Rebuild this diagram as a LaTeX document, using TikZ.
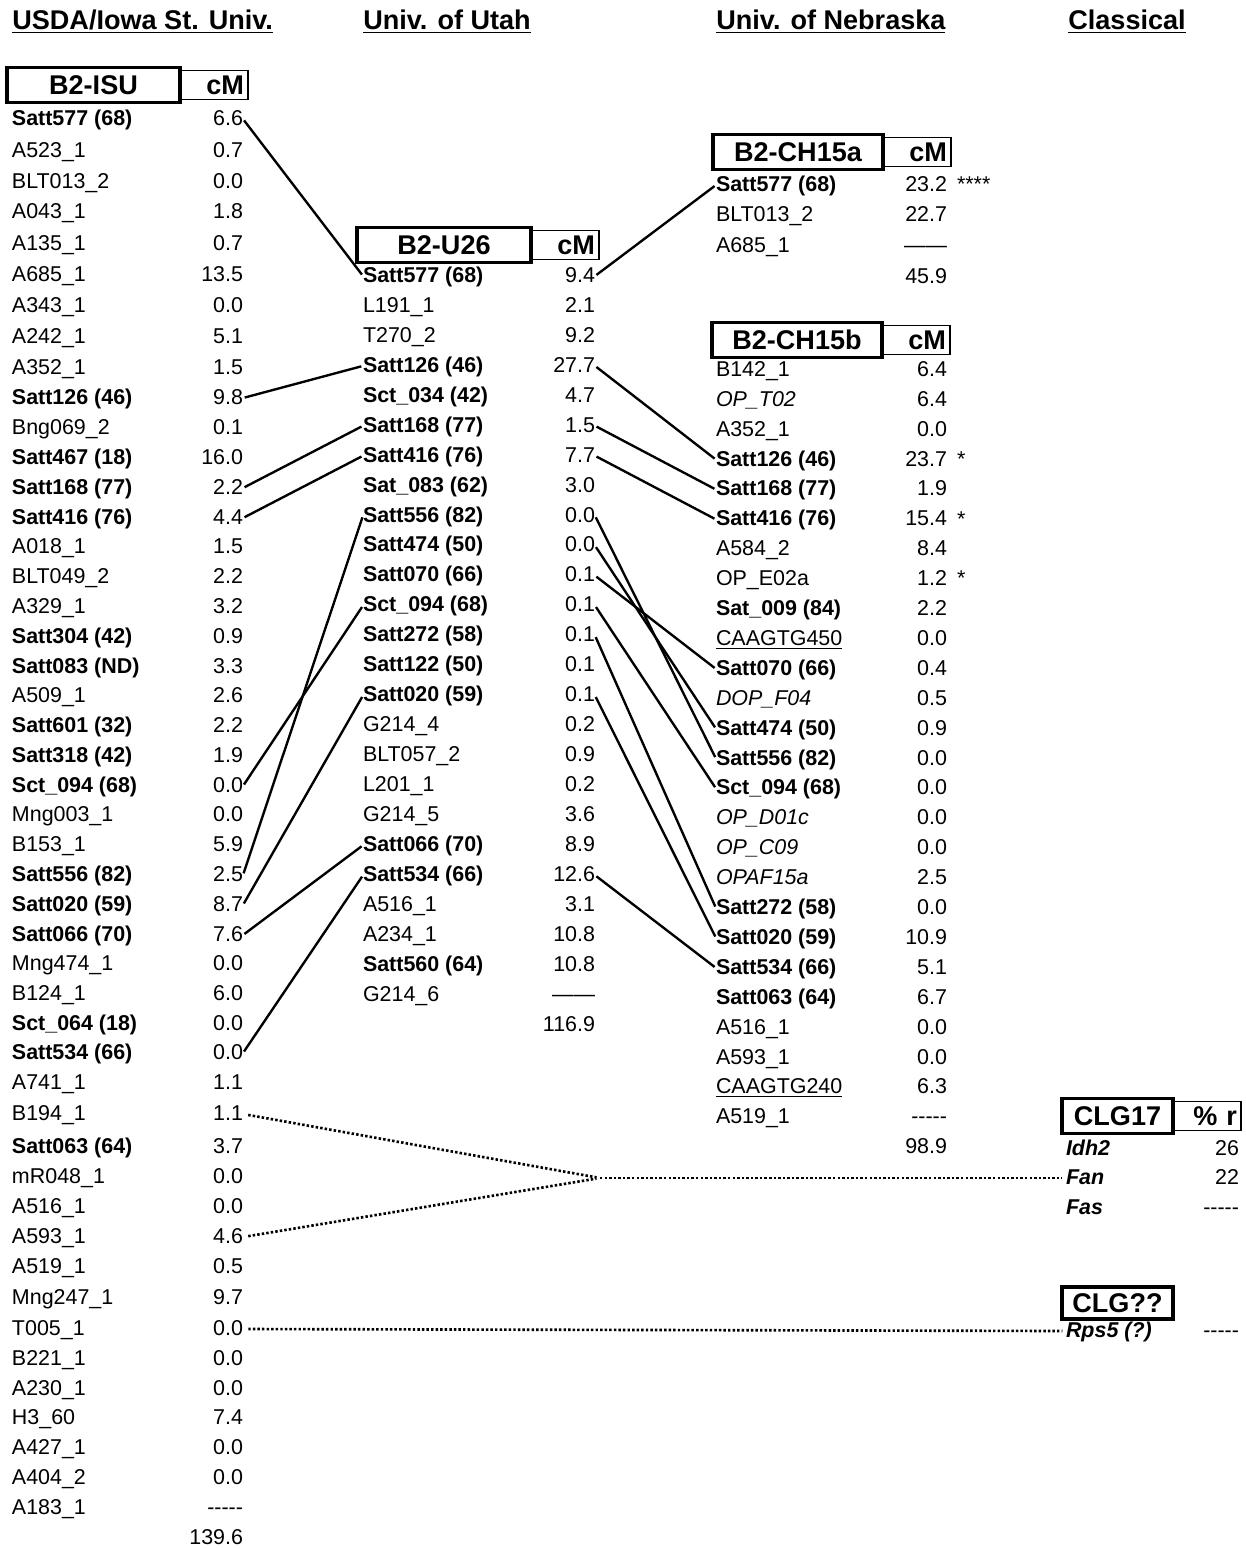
\documentclass[tikz,border=0pt]{standalone}
\usepackage{fontspec}
\setmainfont{Liberation Sans}
\usetikzlibrary{positioning}
\newcommand\rowfont{\fontsize{12.2}{14}\selectfont}
\newcommand\hdrfont{\fontsize{15.4}{18}\selectfont\bfseries}
\newcommand\nodash{-{}-{}-{}-{}-}
\newcommand\longdash{——}

\begin{document}
\begin{tikzpicture}[
  x=0.2mm, y=-0.2mm,
  mkname/.style ={anchor=west,inner sep=0pt,outer sep=0pt,text height=.72em,text depth=0pt,font=\rowfont},
  mkval/.style  ={mkname,anchor=east},
  starmark/.style={mkname},
  ttlnode/.style={anchor=west,inner sep=0pt,text height=.72em,text depth=0pt,font=\hdrfont},
  grpbox/.style ={draw,line width=2pt,inner sep=0pt,outer sep=0pt,minimum width=34.6mm,
                  minimum height=7mm,font=\hdrfont},
  cmbox/.style  ={draw,line width=1pt,anchor=west,inner xsep=0.8mm,inner ysep=0pt,outer sep=0pt,
                  minimum height=5.8mm,text width=12mm,align=right,font=\hdrfont},
  lnk/.style    ={line width=1.35pt,shorten <=1pt,shorten >=1pt},
  dotlnk/.style ={line width=1.5pt,dash pattern=on 1.4pt off 1.2pt,shorten <=3pt,shorten >=2pt}
]
\useasboundingbox (0,0) rectangle (1245,1549);
%% Titles
\node[ttlnode] (ttl-isu)  at (12,23)   {\underline{USDA/Iowa St. Univ.}};
\node[ttlnode] (ttl-utah) at (363,23)  {\underline{Univ. of Utah}};
\node[ttlnode] (ttl-neb)  at (716,23)  {\underline{Univ. of Nebraska}};
\node[ttlnode] (ttl-cls)  at (1068,23) {\underline{Classical}};
%% Group boxes
\node[grpbox] (isu-box) at (93.5,85) {B2-ISU};
\node[cmbox]  (isu-cm)  at (isu-box.east) {cM};
\node[grpbox,minimum width=34.8mm] (u26-box) at (444,245) {B2-U26};
\node[cmbox]  (u26-cm)  at (u26-box.east) {cM};
\node[grpbox,minimum width=34mm] (cha-box) at (798,152) {B2-CH15a};
\node[cmbox]  (cha-cm)  at (cha-box.east) {cM};
\node[grpbox,minimum width=34mm] (chb-box) at (797,340) {B2-CH15b};
\node[cmbox]  (chb-cm)  at (chb-box.east) {cM};
\node[grpbox,minimum width=22.2mm] (clg-box) at (1117.5,1116) {CLG17};
\node[cmbox]  (clg-cm)  at (clg-box.east) {\% r};
\node[grpbox,minimum width=22.2mm,minimum height=6.4mm] (unk-box) at (1117.5,1303) {CLG??};
%% Column 1: B2-ISU
\foreach \n/\y/\nm/\v in {
  1/119/\textbf{Satt577 (68)}/6.6, 2/151/A523\_1/0.7, 3/182/BLT013\_2/0.0,
  4/212/A043\_1/1.8, 5/244/A135\_1/0.7, 6/275/A685\_1/13.5, 7/306/A343\_1/0.0,
  8/337/A242\_1/5.1, 9/368/A352\_1/1.5, 10/398/\textbf{Satt126 (46)}/9.8,
  11/428/Bng069\_2/0.1, 12/458/\textbf{Satt467 (18)}/16.0, 13/488/\textbf{Satt168 (77)}/2.2,
  14/518/\textbf{Satt416 (76)}/4.4, 15/547/A018\_1/1.5, 16/577/BLT049\_2/2.2,
  17/607/A329\_1/3.2, 18/637/\textbf{Satt304 (42)}/0.9, 19/667/\textbf{Satt083 (ND)}/3.3,
  20/696/A509\_1/2.6, 21/726/\textbf{Satt601 (32)}/2.2, 22/756/\textbf{Satt318 (42)}/1.9,
  23/786/\textbf{Sct\_094 (68)}/0.0, 24/815/Mng003\_1/0.0, 25/845/B153\_1/5.9,
  26/875/\textbf{Satt556 (82)}/2.5, 27/905/\textbf{Satt020 (59)}/8.7,
  28/935/\textbf{Satt066 (70)}/7.6, 29/964/Mng474\_1/0.0, 30/994/B124\_1/6.0,
  31/1024/\textbf{Sct\_064 (18)}/0.0, 32/1053/\textbf{Satt534 (66)}/0.0,
  33/1083/A741\_1/1.1, 34/1114/B194\_1/1.1, 35/1147/\textbf{Satt063 (64)}/3.7,
  36/1177/mR048\_1/0.0, 37/1207/A516\_1/0.0, 38/1237/A593\_1/4.6, 39/1267/A519\_1/0.5,
  40/1298/Mng247\_1/9.7, 41/1329/T005\_1/0.0, 42/1359/B221\_1/0.0, 43/1389/A230\_1/0.0,
  44/1418/H3\_60/7.4, 45/1448/A427\_1/0.0, 46/1478/A404\_2/0.0, 47/1508/A183\_1/\nodash}{
  \node[mkname] (isu-\n)  at (12,\y)  {\nm};
  \node[mkval]  (isuv-\n) at (243,\y) {\v};
}
\node[mkval] (isu-tot) at (243,1538) {139.6};
%% Column 2: B2-U26
\foreach \n/\nm/\v in {
  1/\textbf{Satt577 (68)}/9.4, 2/L191\_1/2.1, 3/T270\_2/9.2, 4/\textbf{Satt126 (46)}/27.7,
  5/\textbf{Sct\_034 (42)}/4.7, 6/\textbf{Satt168 (77)}/1.5, 7/\textbf{Satt416 (76)}/7.7,
  8/\textbf{Sat\_083 (62)}/3.0, 9/\textbf{Satt556 (82)}/0.0, 10/\textbf{Satt474 (50)}/0.0,
  11/\textbf{Satt070 (66)}/0.1, 12/\textbf{Sct\_094 (68)}/0.1, 13/\textbf{Satt272 (58)}/0.1,
  14/\textbf{Satt122 (50)}/0.1, 15/\textbf{Satt020 (59)}/0.1, 16/G214\_4/0.2,
  17/BLT057\_2/0.9, 18/L201\_1/0.2, 19/G214\_5/3.6, 20/\textbf{Satt066 (70)}/8.9,
  21/\textbf{Satt534 (66)}/12.6, 22/A516\_1/3.1, 23/A234\_1/10.8,
  24/\textbf{Satt560 (64)}/10.8, 25/G214\_6/\longdash}{
  \node[mkname] (u26-\n)  at (363,{276+(\n-1)*29.96}) {\nm};
  \node[mkval]  (u26v-\n) at (595,{276+(\n-1)*29.96}) {\v};
}
\node[mkval] (u26-tot) at (595,1025) {116.9};
%% Column 3: B2-CH15a
\foreach \n/\nm/\v in {1/\textbf{Satt577 (68)}/23.2, 2/BLT013\_2/22.7, 3/A685\_1/\longdash}{
  \node[mkname] (cha-\n)  at (716,{185+(\n-1)*30.5}) {\nm};
  \node[mkval]  (chav-\n) at (947,{185+(\n-1)*30.5}) {\v};
}
\node[mkval] (cha-tot) at (947,277) {45.9};
%% Column 3: B2-CH15b
\foreach \n/\nm/\v in {
  1/B142\_1/6.4, 2/\textit{OP\_T02}/6.4, 3/A352\_1/0.0, 4/\textbf{Satt126 (46)}/23.7,
  5/\textbf{Satt168 (77)}/1.9, 6/\textbf{Satt416 (76)}/15.4, 7/A584\_2/8.4, 8/OP\_E02a/1.2,
  9/\textbf{Sat\_009 (84)}/2.2, 10/\underline{CAAGTG450}/0.0, 11/\textbf{Satt070 (66)}/0.4,
  12/\textit{DOP\_F04}/0.5, 13/\textbf{Satt474 (50)}/0.9, 14/\textbf{Satt556 (82)}/0.0,
  15/\textbf{Sct\_094 (68)}/0.0, 16/\textit{OP\_D01c}/0.0, 17/\textit{OP\_C09}/0.0,
  18/\textit{OPAF15a}/2.5, 19/\textbf{Satt272 (58)}/0.0, 20/\textbf{Satt020 (59)}/10.9,
  21/\textbf{Satt534 (66)}/5.1, 22/\textbf{Satt063 (64)}/6.7, 23/A516\_1/0.0,
  24/A593\_1/0.0, 25/\underline{CAAGTG240}/6.3, 26/A519\_1/\nodash}{
  \node[mkname] (chb-\n)  at (716,{370+(\n-1)*29.9}) {\nm};
  \node[mkval]  (chbv-\n) at (947,{370+(\n-1)*29.9}) {\v};
}
\node[mkval] (chb-tot) at (947,1147) {98.9};
%% Significance marks
\node[starmark] (cha-s1) at (957,185) {****};
\node[starmark] (chb-s4) at (957,460) {*};
\node[starmark] (chb-s6) at (957,520) {*};
\node[starmark] (chb-s8) at (957,579) {*};
%% Column 4: Classical
\foreach \n/\y/\nm/\v in {1/1149/Idh2/26, 2/1178/Fan/22, 3/1208/Fas/\nodash}{
  \node[mkname] (clg-\n)  at (1066,\y) {\textbf{\textit{\nm}}};
  \node[mkval]  (clgv-\n) at (1239,\y) {\v};
}
\node[mkname] (rps)  at (1066,1331) {\textbf{\textit{Rps5 (?)}}};
\node[mkval]  (rpsv) at (1239,1331) {\nodash};
%% ISU -> U26
\draw[lnk] (isuv-1.east)  -- (u26-1.west);
\draw[lnk] (isuv-10.east) -- (u26-4.west);
\draw[lnk] (isuv-13.east) -- (u26-6.west);
\draw[lnk] (isuv-14.east) -- (u26-7.west);
\draw[lnk] (isuv-23.east) -- (u26-12.west);
\draw[lnk] (isuv-26.east) -- (u26-9.west);
\draw[lnk] (isuv-27.east) -- (u26-15.west);
\draw[lnk] (isuv-28.east) -- (u26-20.west);
\draw[lnk] (isuv-32.east) -- (u26-21.west);
%% U26 -> CH15a / CH15b
\draw[lnk] (u26v-1.east)  -- (cha-1.west);
\draw[lnk] (u26v-4.east)  -- (chb-4.west);
\draw[lnk] (u26v-6.east)  -- (chb-5.west);
\draw[lnk] (u26v-7.east)  -- (chb-6.west);
\draw[lnk] (u26v-9.east)  -- (chb-14.west);
\draw[lnk] (u26v-10.east) -- (chb-13.west);
\draw[lnk] (u26v-11.east) -- (chb-11.west);
\draw[lnk] (u26v-12.east) -- (chb-15.west);
\draw[lnk] (u26v-13.east) -- (chb-19.west);
\draw[lnk] (u26v-15.east) -- (chb-20.west);
\draw[lnk] (u26v-21.east) -- (chb-21.west);
%% ISU -> Classical (dotted)
\coordinate (fanjct) at (600,1178);
\draw[dotlnk] (isuv-34.east) -- (fanjct);
\draw[dotlnk] (isuv-38.east) -- (fanjct);
\draw[dotlnk,shorten <=0pt] (fanjct) -- (clg-2.west);
\draw[dotlnk] (isuv-41.east) -- (rps.west);
\end{tikzpicture}
\end{document}
